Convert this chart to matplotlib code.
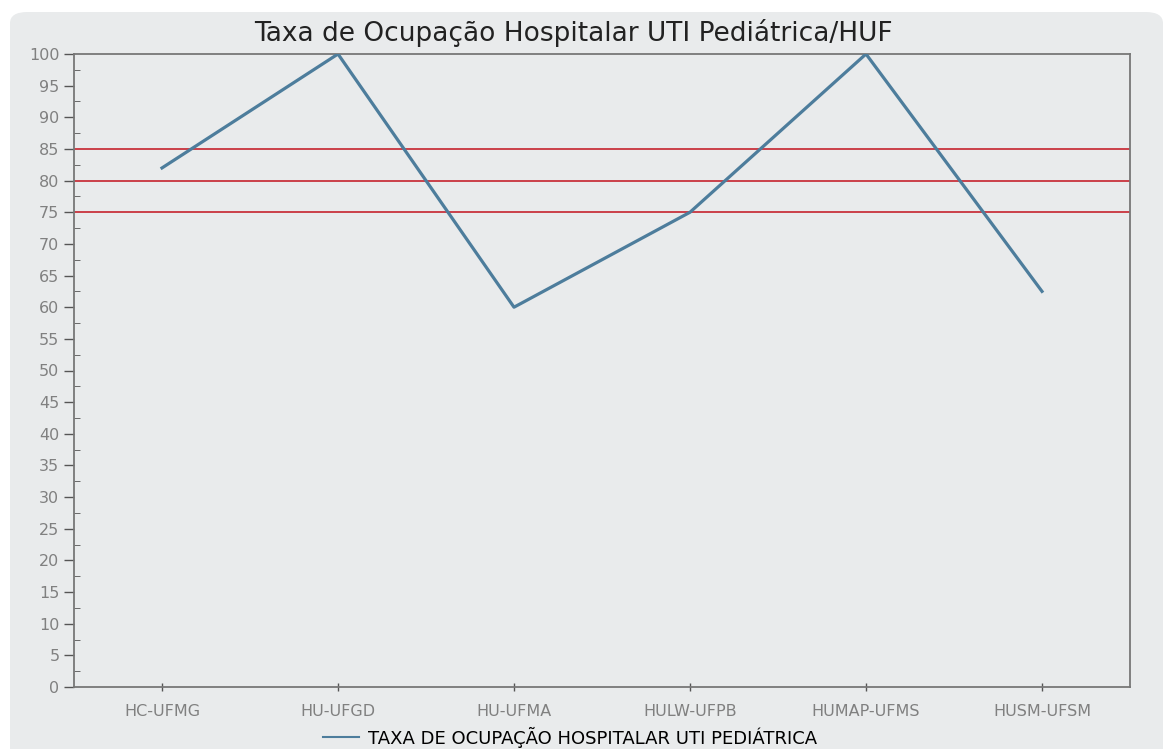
import matplotlib.pyplot as plt
from matplotlib.patches import FancyBboxPatch
from matplotlib.lines import Line2D

# data
hospitals = ['HC-UFMG', 'HU-UFGD', 'HU-UFMA', 'HULW-UFPB', 'HUMAP-UFMS', 'HUSM-UFSM']
taxa = [82, 100, 60, 75, 100, 62.5]
ref_lines = [75, 80, 85]
y_ticks = list(range(0, 101, 5))

bg = '#e9ebec'
fig = plt.figure(figsize=(11.65, 7.49), dpi=100)
fig.patch.set_facecolor('white')

# rounded gray panel behind everything
panel = FancyBboxPatch((10 / 1165, -0.05), 1153 / 1165, (749 - 12) / 749 + 0.05,
                       boxstyle='round,pad=0,rounding_size=0.015',
                       transform=fig.transFigure, facecolor=bg, edgecolor='none', zorder=-10)
fig.patches.append(panel)

ax = fig.add_axes([74 / 1165, 62 / 749, (1130 - 74) / 1165, (687 - 54) / 749])
ax.set_facecolor(bg)

x = range(len(hospitals))
for v in ref_lines:
    ax.axhline(v, color='#c8323c', lw=1.3, zorder=2)
ax.plot(x, taxa, color='#4d7d9c', lw=2.3, zorder=3)

ax.set_xlim(-0.5, len(hospitals) - 0.5)
ax.set_ylim(0, 100)
ax.set_xticks(list(x))
ax.set_xticklabels(hospitals)
ax.set_yticks(y_ticks)
ax.set_yticks([t + 2.5 for t in y_ticks[:-1]], minor=True)

ax.tick_params(axis='both', which='major', colors='#555555', labelcolor='#808080',
               labelsize=11.5, length=7, width=1)
ax.tick_params(axis='x', which='major', direction='inout', length=6, pad=9)
ax.tick_params(axis='y', which='minor', direction='in', length=4, color='#555555')
for s in ax.spines.values():
    s.set_color('#777777')
    s.set_linewidth(1.3)

fig.text(573 / 1165, 1 - 33 / 749, 'Taxa de Ocupação Hospitalar UTI Pediátrica/HUF',
         ha='center', va='center', fontsize=19, color='#222222')

handle = Line2D([], [], color='#4d7d9c', lw=1.5)
fig.legend([handle], ['TAXA DE OCUPAÇÃO HOSPITALAR UTI PEDIÁTRICA'],
           loc='center', bbox_to_anchor=(570 / 1165, 1 - 737 / 749),
           frameon=False, fontsize=13, handlelength=2, handletextpad=0.5,
           borderpad=0, borderaxespad=0)

fig.savefig('out.png', dpi=100, facecolor='white')
